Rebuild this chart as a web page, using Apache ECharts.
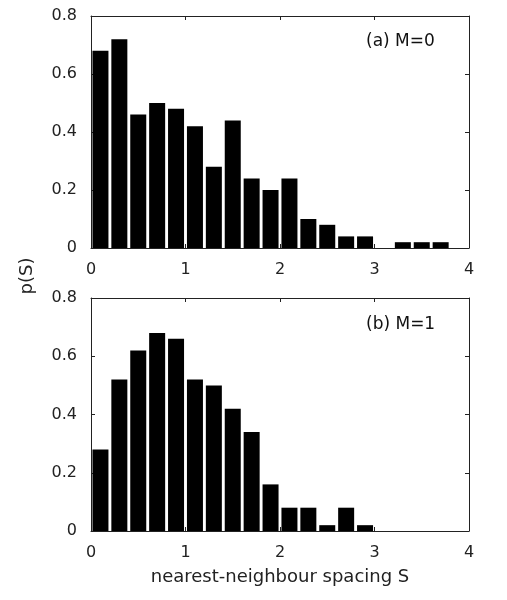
<!DOCTYPE html>
<html>
<head>
<meta charset="utf-8">
<script src="https://cdn.jsdelivr.net/npm/echarts@6/dist/echarts.min.js"></script>
<style>html,body{margin:0;padding:0;background:#fff;}#c{width:507px;height:600px;}</style>
</head>
<body>
<div id="c"></div>
<script>
// bin centres (bin width 0.2)
const binCenters = [0.1,0.3,0.5,0.7,0.9,1.1,1.3,1.5,1.7,1.9,2.1,2.3,2.5,2.7,2.9,3.1,3.3,3.5,3.7,3.9];
const pM0 = [0.68,0.72,0.46,0.50,0.48,0.42,0.28,0.44,0.24,0.20,0.24,0.10,0.08,0.04,0.04,0,0.02,0.02,0.02,0];
const pM1 = [0.28,0.52,0.62,0.68,0.66,0.52,0.50,0.42,0.34,0.16,0.08,0.08,0.02,0.08,0.02,0,0,0,0,0];
const xTicks = [0,1,2,3,4];
const yTicks = [0,0.2,0.4,0.6,0.8];
const labelA = '(a) M=0';
const labelB = '(b) M=1';
const xTitle = 'nearest-neighbour spacing S';
const yTitle = 'p(S)';

const FONT = '"DejaVu Sans", sans-serif';
const chart = echarts.init(document.getElementById('c'));
const lineStyle = {color:'#222', width:1};

function xAxes(gi, showName){
  return [{
    type:'value', gridIndex:gi, min:xTicks[0], max:xTicks[xTicks.length-1], interval:1, position:'bottom',
    axisLine:{show:true, onZero:false, lineStyle}, axisTick:{show:true, inside:true, length:4, lineStyle},
    axisLabel:{show:true, color:'#222', fontSize:16, fontFamily:FONT, margin:14},
    splitLine:{show:false},
    name: showName ? xTitle : '', nameLocation:'middle', nameGap:37,
    nameTextStyle:{color:'#222', fontSize:18, fontFamily:FONT}
  },{
    type:'value', gridIndex:gi, min:xTicks[0], max:xTicks[xTicks.length-1], interval:1, position:'top',
    axisLine:{show:true, onZero:false, lineStyle}, axisTick:{show:true, inside:true, length:4, lineStyle},
    axisLabel:{show:false}, splitLine:{show:false}
  }];
}
function yAxes(gi){
  return [{
    type:'value', gridIndex:gi, min:yTicks[0], max:yTicks[yTicks.length-1], interval:0.2, position:'left',
    axisLine:{show:true, onZero:false, lineStyle}, axisTick:{show:true, inside:true, length:4, lineStyle},
    axisLabel:{show:true, color:'#222', fontSize:16, fontFamily:FONT, margin:14,
      formatter:v=>{ const r=Math.round(v*10)/10; return r===0?'0':String(r);} },
    splitLine:{show:false}
  },{
    type:'value', gridIndex:gi, min:yTicks[0], max:yTicks[yTicks.length-1], interval:0.2, position:'right',
    axisLine:{show:true, onZero:false, lineStyle}, axisTick:{show:true, inside:true, length:4, lineStyle},
    axisLabel:{show:false}, splitLine:{show:false}
  }];
}

chart.setOption({
  animation:false,
  backgroundColor:'#fff',
  grid:[
    {left:91, top:16, width:378, height:232},
    {left:91, top:298, width:378, height:233}
  ],
  xAxis:[...xAxes(0,false), ...xAxes(1,true)],
  yAxis:[...yAxes(0), ...yAxes(1)],
  series:[
    {type:'bar', xAxisIndex:0, yAxisIndex:0, barWidth:16, itemStyle:{color:'#000'},
     data: binCenters.map((x,i)=>[x,pM0[i]])},
    {type:'bar', xAxisIndex:2, yAxisIndex:2, barWidth:16, itemStyle:{color:'#000'},
     data: binCenters.map((x,i)=>[x,pM1[i]])}
  ],
  graphic:[
    {type:'text', x:366, y:42, style:{text:labelA, fontSize:17, fontFamily:FONT, fill:'#111', verticalAlign:'middle'}},
    {type:'text', x:366, y:325, style:{text:labelB, fontSize:17, fontFamily:FONT, fill:'#111', verticalAlign:'middle'}},
    {type:'text', x:27, y:276, rotation:Math.PI/2,
     style:{text:yTitle, fontSize:18, fontFamily:FONT, fill:'#222', align:'center', verticalAlign:'middle'}}
  ]
});
</script>
</body>
</html>
